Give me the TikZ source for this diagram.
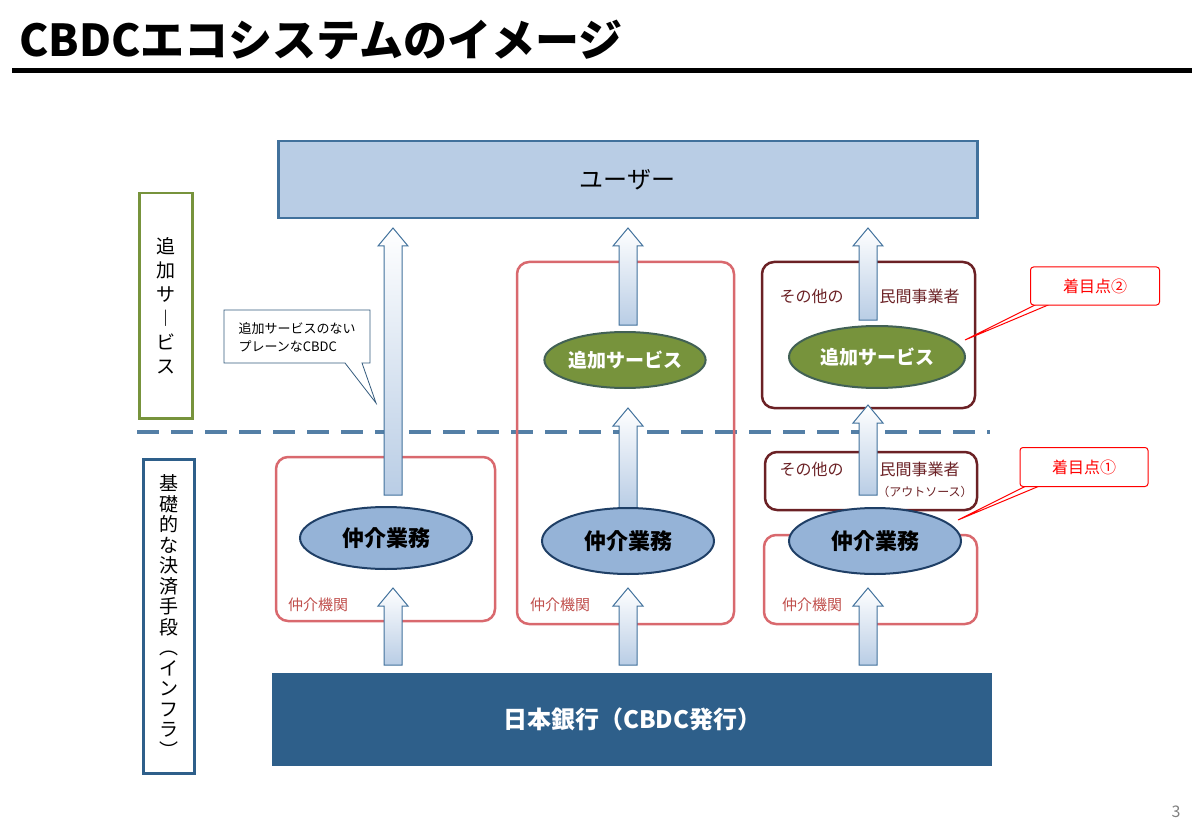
\documentclass[tikz,border=0pt]{standalone}
\usepackage{fontspec}
\setmainfont{Noto Sans CJK JP}
\usetikzlibrary{shapes.geometric}
\definecolor{ublue}{HTML}{B9CDE5}
\definecolor{ubord}{HTML}{41719C}
\definecolor{dblue}{HTML}{2E5F8A}
\definecolor{eblue}{HTML}{95B3D7}
\definecolor{eline}{HTML}{1F3F66}
\definecolor{gfill}{HTML}{77933C}
\definecolor{lred}{HTML}{D9696E}
\definecolor{dred}{HTML}{6B2125}
\definecolor{tred}{HTML}{C0504D}
\tikzset{
 rbox/.style={draw=lred,line width=2.5pt,rounded corners=12pt},
 dbox/.style={draw=dred,line width=2.5pt,rounded corners=12pt},
 bell/.style={ellipse,draw=eline,line width=2pt,fill=eblue,font=\fontsize{22}{24}\selectfont\bfseries,inner sep=0},
 gell/.style={ellipse,draw=eline!60!gfill,line width=2pt,fill=gfill,text=white,font=\fontsize{19}{22}\selectfont\bfseries,inner sep=0},
 lab/.style={text=tred,font=\fontsize{15}{17}\selectfont},
 oth/.style={text=dred,font=\fontsize{16}{18}\selectfont},
 callr/.style={draw=red,line width=1pt,rounded corners=3pt,fill=white,text=red,font=\fontsize{16}{18}\selectfont},
}
\newcommand\barrow[3]{% x, ybottom, ytop
 \draw[ubord,line width=1pt,top color=white,bottom color=ublue]
 (#1-9,#2)--(#1-9,#3+18)--(#1-15,#3+18)--(#1,#3)--(#1+15,#3+18)--(#1+9,#3+18)--(#1+9,#2)--cycle;}
\begin{document}
\begin{tikzpicture}[x=1pt,y=-1pt]
\useasboundingbox (0,0) rectangle (1200,829);
\node[anchor=west,font=\fontsize{44}{48}\selectfont\bfseries] (title) at (16,40) {CBDCエコシステムのイメージ};
\draw[line width=5pt] (12,71)--(1192,71);
\node[draw=ubord,line width=2.5pt,fill=ublue,minimum width=699,minimum height=77,font=\fontsize{24}{26}\selectfont,anchor=north west] (user) at (277,140) {ユーザー};
\node[draw=gfill,line width=2.5pt,minimum width=53,minimum height=225,anchor=north west,align=center,font=\fontsize{19}{24}\selectfont] (add) at (138,192) {追\\加\\サ\\︱\\ビ\\ス};
\node[draw=dblue,line width=2.5pt,minimum width=51,minimum height=314,anchor=north west,align=center,inner ysep=0,font=\fontsize{19}{20.5}\selectfont] (base) at (142,458) {基\\礎\\的\\な\\決\\済\\手\\段\\︵\\イ\\ン\\フ\\ラ\\︶};
\draw[line width=4.5pt,color=ubord!90!white,dash pattern=on 22pt off 12pt] (137,432)--(990,432);
\node[fill=dblue,minimum width=720,minimum height=93,anchor=north west,text=white,font=\fontsize{24}{26}\selectfont\bfseries] (boj) at (272,673) {日本銀行（CBDC発行）};
\draw[rbox] (276,457) rectangle (495,621);
\draw[rbox] (517,262) rectangle (734,624);
\draw[rbox] (764,535) rectangle (977,624);
\draw[dbox] (762,262) rectangle (975,408);
\draw[dbox] (765,452) rectangle (977,510);
\barrow{393}{665}{588}
\barrow{628}{665}{588}
\barrow{868}{665}{588}
\barrow{393}{495}{228}
\barrow{628}{508}{408}
\barrow{628}{325}{228}
\barrow{868}{495}{405}
\barrow{868}{320}{228}
\node[bell,minimum width=172,minimum height=62] (e1) at (386,538) {仲介業務};
\node[bell,minimum width=172,minimum height=66] (e2) at (628,541) {仲介業務};
\node[bell,minimum width=172,minimum height=66] (e3) at (875,541) {仲介業務};
\node[gell,minimum width=160,minimum height=56] (g2) at (625,360) {追加サービス};
\node[gell,minimum width=176,minimum height=62] (g3) at (877,357) {追加サービス};
\node[lab] (l1) at (318,605) {仲介機関};
\node[lab] (l2) at (560,605) {仲介機関};
\node[lab] (l3) at (812,605) {仲介機関};
\node[oth,anchor=west] (o1a) at (776,296) {その他の};
\node[oth,anchor=west] (o1b) at (876,296) {民間事業者};
\node[oth,anchor=west] (o2a) at (776,469) {その他の};
\node[oth,anchor=west] (o2b) at (876,469) {民間事業者};
\node[oth,font=\fontsize{12}{14}\selectfont] (o3) at (925,492) {（アウトソース）};
\draw[ubord!80!black,line width=0.8pt,fill=white] (224,310)--(370,310)--(370,363)--(362,363)--(376,403)--(345,363)--(224,363)--cycle;
\node[align=left,font=\fontsize{13}{18}\selectfont,anchor=center] (c0) at (297,337) {追加サービスのない\\プレーンなCBDC};
\draw[red,line width=1pt,fill=white] (1045,300)--(965,340)--(1060,300);
\node[callr,minimum width=129,minimum height=38] (c2) at (1095,286) {着目点②};
\draw[red,line width=1pt,fill=white] (1034,482)--(958,520)--(1049,482);
\node[callr,minimum width=128,minimum height=39] (c1) at (1084,467) {着目点①};
\node[text=gray,font=\fontsize{16}{18}\selectfont] (pg) at (1176,812) {3};
\end{tikzpicture}
\end{document}
